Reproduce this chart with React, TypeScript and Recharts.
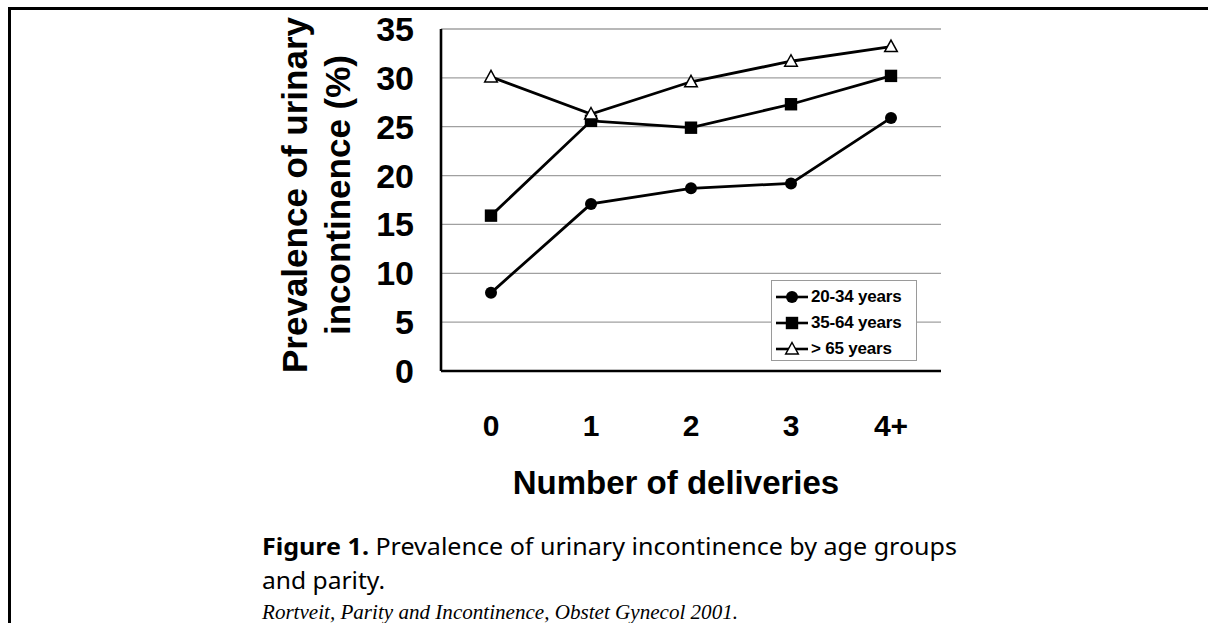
import React from "react";
import { CartesianGrid, Legend, Line, LineChart, XAxis, YAxis } from "recharts";

// number of deliveries (x categories)
const deliveries = ["0", "1", "2", "3", "4+"];
// prevalence of urinary incontinence (%) per age group
const age20to34 = [8.0, 17.1, 18.7, 19.2, 25.9];
const age35to64 = [15.9, 25.6, 24.9, 27.3, 30.2];
const age65plus = [30.1, 26.3, 29.6, 31.7, 33.2];
const yTicks = [0, 5, 10, 15, 20, 25, 30, 35];
const seriesNames = ["20-34 years", "35-64 years", "> 65 years"];
const yTitleLines = ["Prevalence of urinary", "incontinence (%)"];
const xTitle = "Number of deliveries";

const data = deliveries.map((d, i) => ({
  d,
  young: age20to34[i],
  mid: age35to64[i],
  old: age65plus[i],
}));

const FONT = "'Liberation Sans', Arial, Helvetica, sans-serif";

function CircleMark({ cx, cy }: { cx: number; cy: number }) {
  return <circle cx={cx} cy={cy} r={6} fill="#000" />;
}

function SquareMark({ cx, cy }: { cx: number; cy: number }) {
  return <rect x={cx - 6.2} y={cy - 6.2} width={12.4} height={12.4} fill="#000" />;
}

function TriangleMark({ cx, cy }: { cx: number; cy: number }) {
  return (
    <path
      d={`M${cx},${cy - 6.5} L${cx + 6.3},${cy + 5} L${cx - 6.3},${cy + 5} Z`}
      fill="#fff"
      stroke="#000"
      strokeWidth={1.5}
    />
  );
}

const marks = [CircleMark, SquareMark, TriangleMark];

function dot(Mark: any) {
  return (p: any) => {
    if (p.cx == null || p.cy == null) return <g key={p.key} />;
    return <Mark key={p.key} cx={p.cx} cy={p.cy} />;
  };
}

function LegendBox() {
  return (
    <div
      style={{
        width: 146,
        height: 81,
        boxSizing: "border-box",
        border: "1px solid #9a9a9a",
        background: "#fff",
        paddingTop: 3,
        paddingLeft: 4,
      }}
    >
      {seriesNames.map((name, i) => {
        const Mark = marks[i];
        return (
          <div key={name} style={{ height: 26, display: "flex", alignItems: "center" }}>
            <svg width={32} height={20} style={{ display: "block" }}>
              <line x1={0} y1={10} x2={32} y2={10} stroke="#000" strokeWidth={2.6} />
              <Mark cx={16} cy={10} />
            </svg>
            <span
              style={{
                marginLeft: 3,
                fontFamily: FONT,
                fontWeight: 700,
                fontSize: 17,
                color: "#000",
                whiteSpace: "nowrap",
                letterSpacing: -0.2,
              }}
            >
              {name}
            </span>
          </div>
        );
      })}
    </div>
  );
}

function YTitle({ viewBox }: any) {
  const cy = viewBox.y + viewBox.height / 2 - 5;
  const xs = [viewBox.x + 66, viewBox.x + 109];
  return (
    <g>
      {yTitleLines.map((t, i) => (
        <text
          key={t}
          transform={`translate(${xs[i]},${cy}) rotate(-90)`}
          textAnchor="middle"
          fontFamily={FONT}
          fontWeight={700}
          fontSize={35}
          fill="#000"
        >
          {t}
        </text>
      ))}
    </g>
  );
}

function XTitle({ viewBox }: any) {
  return (
    <text
      x={viewBox.x + viewBox.width / 2 - 15}
      y={viewBox.y + 123}
      textAnchor="middle"
      fontFamily={FONT}
      fontWeight={700}
      fontSize={33}
      fill="#000"
    >
      {xTitle}
    </text>
  );
}

export default function App() {
  return (
    <div
      style={{
        position: "absolute",
        left: 0,
        top: 0,
        width: 1208,
        height: 623,
        overflow: "hidden",
        background: "#fff",
      }}
    >
      <div
        style={{
          position: "absolute",
          left: 8,
          top: 7,
          width: 1300,
          height: 700,
          borderTop: "3px solid #000",
          borderLeft: "3px solid #000",
        }}
      />
      <div style={{ position: "absolute", left: 0, top: 0 }}>
        <LineChart
          width={1208}
          height={623}
          data={data}
          margin={{ top: 29, right: 267, bottom: 0, left: 241 }}
        >
          <CartesianGrid horizontal vertical={false} stroke="#a0a0a0" strokeWidth={1.3} />
          <XAxis
            dataKey="d"
            height={252}
            padding={{ left: 50, right: 50 }}
            tickLine={false}
            tickMargin={38}
            axisLine={{ stroke: "#000", strokeWidth: 2.6 }}
            tick={{ fill: "#000", fontFamily: FONT, fontWeight: 700, fontSize: 30 }}
            label={{ content: XTitle }}
          />
          <YAxis
            width={200}
            domain={[0, 35]}
            ticks={yTicks}
            interval={0}
            tickLine={false}
            tickMargin={21}
            axisLine={{ stroke: "#000", strokeWidth: 2.6 }}
            tick={{ fill: "#000", fontFamily: FONT, fontWeight: 700, fontSize: 34 }}
            label={{ content: YTitle }}
          />
          <Legend
            layout="vertical"
            align="center"
            verticalAlign="middle"
            content={() => <LegendBox />}
            wrapperStyle={{ left: 771, top: 280, width: 146, height: 81 }}
          />
          <Line
            dataKey="young"
            name={seriesNames[0]}
            stroke="#000"
            strokeWidth={2.8}
            dot={dot(CircleMark)}
            isAnimationActive={false}
          />
          <Line
            dataKey="mid"
            name={seriesNames[1]}
            stroke="#000"
            strokeWidth={2.8}
            dot={dot(SquareMark)}
            isAnimationActive={false}
          />
          <Line
            dataKey="old"
            name={seriesNames[2]}
            stroke="#000"
            strokeWidth={2.8}
            dot={dot(TriangleMark)}
            isAnimationActive={false}
          />
        </LineChart>
      </div>
      <svg
        width={1208}
        height={623}
        style={{ position: "absolute", left: 0, top: 0, pointerEvents: "none" }}
      >
        <text
          x={262}
          y={555}
          fontFamily="'Noto Sans', 'Open Sans', sans-serif"
          fontSize={24}
          fill="#000"
          textLength={695}
          lengthAdjust="spacingAndGlyphs"
        >
          <tspan fontWeight={700}>Figure 1.</tspan>
          <tspan> Prevalence of urinary incontinence by age groups</tspan>
        </text>
        <text
          x={262}
          y={589}
          fontFamily="'Noto Sans', 'Open Sans', sans-serif"
          fontSize={24}
          fill="#000"
          textLength={123}
          lengthAdjust="spacingAndGlyphs"
        >
          and parity.
        </text>
        <text
          x={262}
          y={619}
          fontFamily="'Liberation Serif', 'DejaVu Serif', serif"
          fontStyle="italic"
          fontSize={20}
          fill="#000"
          textLength={476}
          lengthAdjust="spacingAndGlyphs"
        >
          Rortveit, Parity and Incontinence, Obstet Gynecol 2001.
        </text>
      </svg>
    </div>
  );
}
